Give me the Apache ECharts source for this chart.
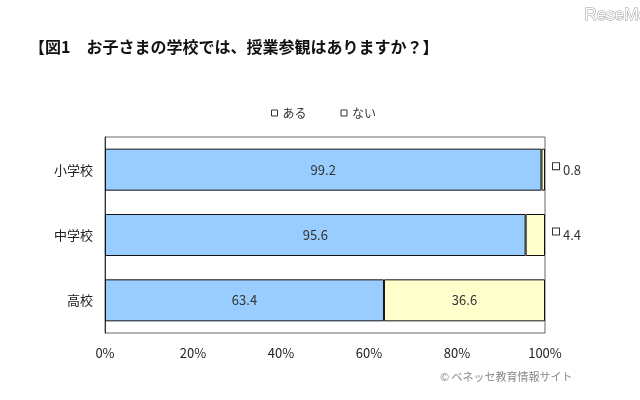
<!DOCTYPE html>
<html><head><meta charset="utf-8">
<script src="https://cdn.jsdelivr.net/npm/echarts@6/dist/echarts.min.js"></script>
<style>html,body{margin:0;padding:0;background:#fff}#c{width:640px;height:400px}</style>
</head><body><div id="c"></div>
<script>
const categories = ['小学校', '中学校', '高校'];
const seriesNames = ['ある', 'ない'];
const aruValues = [99.2, 95.6, 63.4];
const naiValues = [0.8, 4.4, 36.6];
const xTicks = [0, 20, 40, 60, 80, 100];

const FONT = '"Noto Sans CJK JP", sans-serif';
const chart = echarts.init(document.getElementById('c'), null, {renderer: 'canvas'});

const naiData = naiValues.map(v => {
  if (v < 10) {
    return {value: v, label: {show: true, position: 'right', distance: 8,
      formatter: '{k|}{t|' + v.toFixed(1) + '}',
      rich: {k: {width: 6, height: 6, borderColor: '#333', borderWidth: 1, backgroundColor: '#fff', verticalAlign: 'top'},
             t: {fontSize: 13, color: '#333', fontFamily: FONT, padding: [0, 0, 0, 4]}}}};
  }
  return {value: v, label: {show: true, position: 'inside', formatter: v.toFixed(1), fontSize: 13, color: '#333', fontFamily: FONT}};
});

chart.setOption({
  animation: false,
  textStyle: {fontFamily: FONT},
  title: {text: '【図1　お子さまの学校では、授業参観はありますか？】', left: 24, top: 34,
    textStyle: {fontSize: 16, fontWeight: 'bold', color: '#111', fontFamily: FONT}},
  graphic: [
    {type: 'text', left: 584, top: 6, style: {text: 'ReseMom', fontSize: 17, fill: '#fff', stroke: '#999', lineWidth: 1, fontFamily: 'Liberation Sans'}},
    {type: 'text', left: 440, top: 371, style: {text: '© ベネッセ教育情報サイト', fontSize: 11, fill: '#888', fontFamily: FONT}}
  ],
  legend: {data: seriesNames.map(n => ({name: n, itemStyle: {color: '#fff', borderColor: '#333', borderWidth: 1}})),
    left: 266, top: 102, itemWidth: 6, itemHeight: 6, itemGap: 34,
    icon: 'rect', textStyle: {fontSize: 12, color: '#333', fontFamily: FONT}},
  grid: {left: 105, right: 95, top: 137, bottom: 67, show: true, borderColor: '#666', borderWidth: 1},
  xAxis: {type: 'value', min: 0, max: 100, interval: 20,
    axisLine: {show: false}, axisTick: {show: false}, splitLine: {show: false},
    axisLabel: {formatter: '{value}%', fontSize: 13, color: '#222', margin: 14, fontFamily: FONT,
      customValues: xTicks}},
  yAxis: {type: 'category', data: categories, inverse: true,
    axisLine: {show: true, lineStyle: {color: '#333'}}, axisTick: {show: false},
    axisLabel: {fontSize: 13, color: '#222', margin: 12, fontFamily: FONT}},
  series: [
    {name: seriesNames[0], type: 'bar', stack: 's', data: aruValues, barWidth: 42,
      itemStyle: {color: '#99CCFF', borderColor: '#111', borderWidth: 1},
      label: {show: true, position: 'inside', fontSize: 13, color: '#333', fontFamily: FONT, formatter: p => p.value.toFixed(1)}},
    {name: seriesNames[1], type: 'bar', stack: 's', data: naiData, barWidth: 42,
      itemStyle: {color: '#FFFFCC', borderColor: '#111', borderWidth: 1}}
  ]
});
</script></body></html>
